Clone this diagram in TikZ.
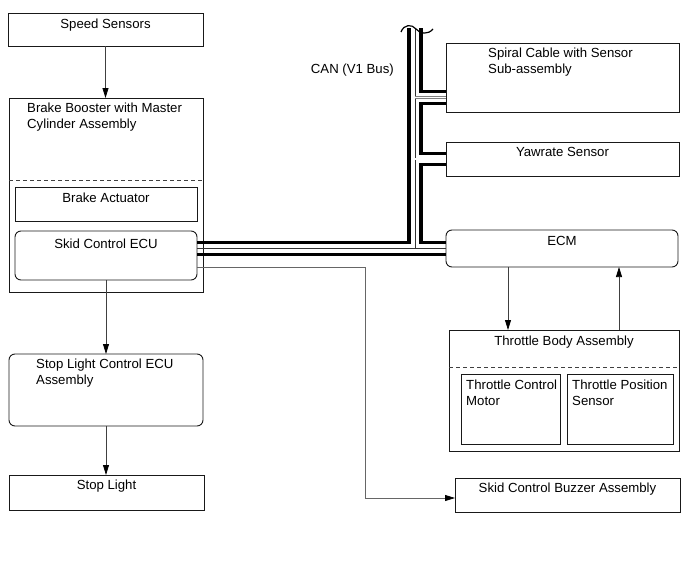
\documentclass[tikz,border=0pt]{standalone}
\usepackage{fontspec}
\setmainfont{Liberation Sans}
\usetikzlibrary{arrows.meta}
\newcommand{\boxfont}{\fontsize{13.2}{16}\selectfont}

\begin{document}
\begin{tikzpicture}[x=1pt, y=-1pt,
    block/.style={draw=black!90, line width=0.9pt, anchor=north west,
      inner sep=0pt, outer sep=0pt},
    ecu/.style={block, rounded corners=6pt},
    title/.style={anchor=north, inner sep=0pt, font=\boxfont, yshift=-6pt},
    lefttitle/.style={anchor=north west, inner sep=0pt, align=left,
      font=\boxfont, yshift=-5pt},
    divider/.style={draw=black!75, line width=0.8pt, dash pattern=on 4pt off 3pt},
    flow/.style={draw=black!75, line width=0.75pt,
      -{Triangle[length=10pt, width=6pt, color=black]}},
    can/.style={draw=black, line width=3.6pt},
    canmid/.style={draw=black!80, line width=0.8pt},
    canstub/.style={draw=black!50, line width=0.6pt, double=white, double distance=1.4pt},
  ]
  \useasboundingbox (0,0) rectangle (689,562);

  \node[block, minimum width=195pt, minimum height=33pt,
    label={[title]north:Speed Sensors}] (speed) at (8,13) {};
  \node[block, minimum width=194pt, minimum height=194pt,
    label={[lefttitle, xshift=18pt]north west:Brake Booster with Master\\Cylinder Assembly}] (booster) at (9,98) {};
  \node[block, minimum width=182pt, minimum height=34pt,
    label={[title]north:Brake Actuator}] (actuator) at (15,187) {};
  \node[ecu, minimum width=182pt, minimum height=49pt,
    label={[title, yshift=-2pt]north:Skid Control ECU}] (skid) at (15,231) {};
  \node[ecu, minimum width=194pt, minimum height=72pt,
    label={[lefttitle, xshift=27pt]north west:Stop Light Control ECU\\Assembly}] (slc) at (9,354) {};
  \node[block, minimum width=195pt, minimum height=35pt,
    label={[title, yshift=1pt]north:Stop Light}] (stop) at (9,475) {};

  \node[block, minimum width=233pt, minimum height=69pt,
    label={[lefttitle, xshift=42pt]north west:Spiral Cable with Sensor\\Sub-assembly}] (spiral) at (446,43) {};
  \node[block, minimum width=233pt, minimum height=34pt,
    label={[title, yshift=1pt]north:Yawrate Sensor}] (yaw) at (446,142) {};
  \node[ecu, minimum width=232pt, minimum height=37pt,
    label={[title]north:ECM}] (ecm) at (446,230) {};
  \node[block, minimum width=230pt, minimum height=121pt,
    label={[title]north:Throttle Body Assembly}] (throttle) at (449,330) {};
  \node[block, minimum width=99pt, minimum height=70pt,
    label={[lefttitle, xshift=5pt, yshift=-1pt]north west:Throttle Control\\Motor}] (motor) at (461,374) {};
  \node[block, minimum width=106pt, minimum height=70pt,
    label={[lefttitle, xshift=5pt, yshift=-1pt]north west:Throttle Position\\Sensor}] (tps) at (567,374) {};
  \node[block, minimum width=225pt, minimum height=34pt,
    label={[title, yshift=1pt]north:Skid Control Buzzer Assembly}] (buzzer) at (455,478) {};
  \node[font=\boxfont, anchor=east, inner sep=0pt] (canlabel) at (394,70) {CAN (V1 Bus)};

  \draw[divider] ([yshift=-82pt]booster.north west) -- ([yshift=-82pt]booster.north east);
  \draw[divider] ([yshift=-37pt]throttle.north west) -- ([yshift=-37pt]throttle.north east);

  \draw[flow] (speed.south) -- (speed.south |- booster.north);
  \draw[flow] (skid.south) -- (slc.north);
  \draw[flow] (slc.south) -- (slc.south |- stop.north);
  \draw[flow] ([xshift=-54pt]ecm.south) -- ([xshift=-56pt]throttle.north);
  \draw[flow] ([xshift=55pt]throttle.north) -- ([xshift=57pt]ecm.south);
  \draw[flow, draw=black!60] ([yshift=-12pt]skid.east) -- ++(168,0) |- ([yshift=-3pt]buzzer.west);

  \coordinate (canL) at (409,28);
  \coordinate (canM) at (415,28);
  \coordinate (canR) at (421,28);
  \draw[can] ([yshift=13pt]skid.east) -| (canL);
  \draw[can] ([yshift=1pt]skid.east) -- ([yshift=-6pt]ecm.west);
  \draw[canmid] ([yshift=7pt]skid.east) -- (ecm.west);
  \draw[canmid] (canM) -- (canM |- ecm.west);
  \draw[can] (canR) |- ([yshift=-14pt]spiral.west);
  \draw[canstub] ([yshift=-20pt]spiral.west) -- ++(-31,0);
  \draw[can] ([yshift=-26pt]spiral.west) -- ++(-25,0) |- ([yshift=5.5pt]yaw.west);
  \draw[canstub] (yaw.west) -- ++(-31,0);
  \draw[can] ([yshift=-5.5pt]yaw.west) -- ++(-25,0) |- ([yshift=6pt]ecm.west);
  \draw[line width=1.2pt] (401,32) .. controls (404,24) and (412,24) .. (416,29)
    .. controls (420,34) and (428,35) .. (433,29);
\end{tikzpicture}
\end{document}
